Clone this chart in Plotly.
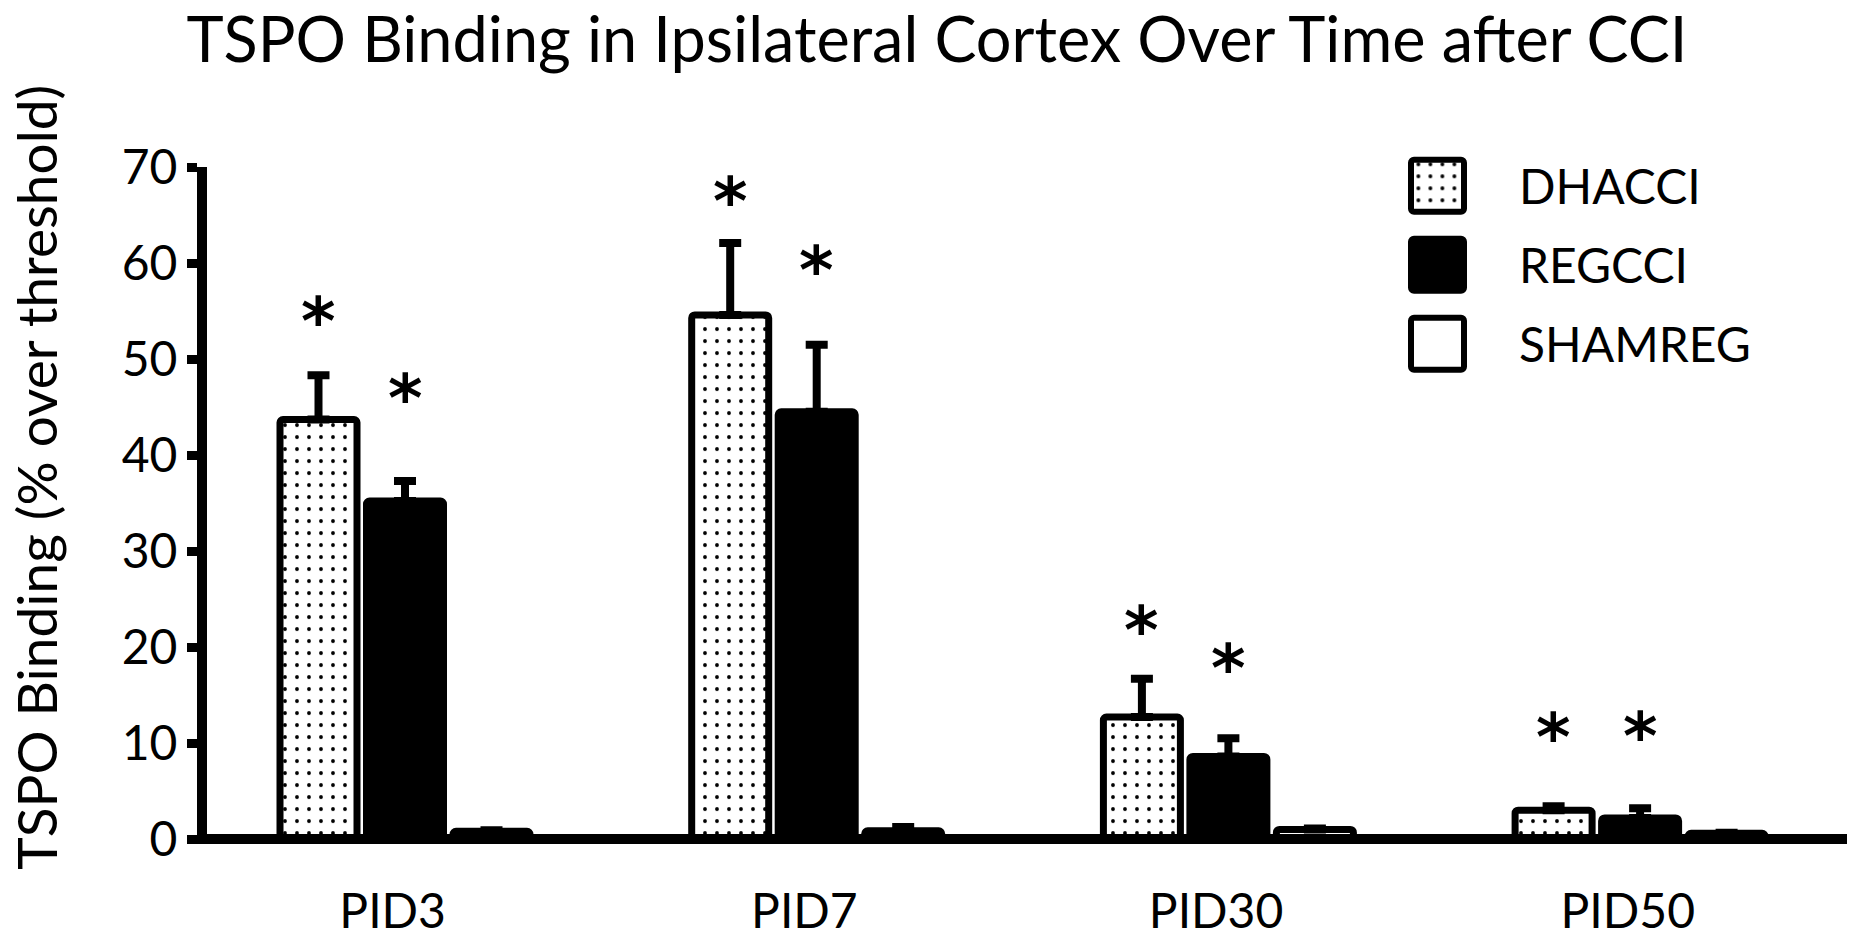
import plotly.graph_objects as go

# ---------------- data ----------------
categories = ["PID3", "PID7", "PID30", "PID50"]
series_names = ["DHACCI", "REGCCI", "SHAMREG"]

dhacci = [43.7, 54.6, 12.7, 3.0]
dhacci_err = [4.6, 7.5, 4.0, 0.4]
regcci = [35.2, 44.5, 8.6, 2.2]
regcci_err = [2.1, 7.0, 1.9, 1.0]
shamreg = [0.8, 0.85, 1.0, 0.6]
shamreg_err = [0.1, 0.4, 0.1, 0.05]

# heights (data units) at which the significance asterisks are drawn
sig_dhacci = [55.4, 67.9, 23.2, 12.0]
sig_regcci = [47.4, 60.7, 19.2, 12.1]

y_ticks = [0, 10, 20, 30, 40, 50, 60, 70]

# ---------------- layout constants (pixels) ----------------
W, H = 1860, 950
PL, PR = 207, 1845          # plot area left/right
PT, PB = 140, 850           # paper top / plot bottom
PW, PH = PR - PL, PB - PT
Y_TOP = 167.5               # pixel of y = 70
GROUP0 = 405                # pixel of first group centre
UNIT = 411.7                # pixels between groups
PITCH = 86.5 / UNIT
BARW = 77 / UNIT
LW = 7
FONT = "Lato"

def px_x(p):
    return (p - PL) / PW

def px_y(p):
    return (PB - p) / PH

x_range = [(PL - GROUP0) / UNIT, (PR - GROUP0) / UNIT]
main_dom_top = (PB - Y_TOP) / PH

styles = {
    "DHACCI": dict(color="white", line=dict(color="black", width=LW),
                   pattern=dict(shape=".", fgcolor="black", bgcolor="white",
                                size=12, solidity=0.08, fillmode="replace"),
                   cornerradius=3),
    "REGCCI": dict(color="black", line=dict(color="black", width=LW), cornerradius=3),
    "SHAMREG": dict(color="white", line=dict(color="black", width=LW), cornerradius=3),
}
values = {"DHACCI": (dhacci, dhacci_err), "REGCCI": (regcci, regcci_err),
          "SHAMREG": (shamreg, shamreg_err)}

fig = go.Figure()
for k, name in enumerate(series_names):
    vals, errs = values[name]
    xs = [i + (k - 1) * PITCH for i in range(len(categories))]
    fig.add_trace(go.Bar(
        x=xs, y=vals, width=BARW, name=name, showlegend=False,
        marker=styles[name],
        error_y=dict(type="data", array=errs, arrayminus=[0] * len(errs),
                     symmetric=False, color="black", thickness=8, width=11),
        xaxis="x", yaxis="y",
    ))

# legend swatches drawn as bars on a small overlay axis
for k, name in enumerate(series_names):
    fig.add_trace(go.Bar(
        y=[2 - k], x=[1], base=0, orientation="h", width=0.66, showlegend=False,
        marker={**styles[name], "line": dict(color="black", width=6)},
        xaxis="x2", yaxis="y2", hoverinfo="skip",
    ))

annotations = []
# asterisks
for i in range(len(categories)):
    for k, lev in ((0, sig_dhacci[i]), (1, sig_regcci[i])):
        annotations.append(dict(
            x=i + (k - 1) * PITCH, y=lev, xref="x", yref="y", text="<b>*</b>",
            showarrow=False, font=dict(family="DejaVu Sans", size=66, color="black"),
            xanchor="center", yanchor="middle", yshift=-14,
        ))
# legend text
for k, name in enumerate(series_names):
    annotations.append(dict(
        x=px_x(1517), y=2 - k, xref="paper", yref="y2", text=name, showarrow=False,
        font=dict(family=FONT, size=48, color="black"), xanchor="left", yanchor="middle",
    ))
# y-axis title
annotations.append(dict(
    x=px_x(36), y=px_y(483), xref="paper", yref="paper",
    text="TSPO Binding (% over threshold)", textangle=-90, showarrow=False,
    font=dict(family=FONT, size=55, color="black"), xanchor="center", yanchor="middle",
))

leg_unit = 80.25
leg_mid = 266.75
fig.update_layout(
    width=W, height=H,
    margin=dict(l=PL, r=W - PR, t=PT, b=H - PB, pad=0),
    paper_bgcolor="white", plot_bgcolor="white",
    barmode="overlay",
    title=dict(text="TSPO Binding in Ipsilateral Cortex Over Time after CCI",
               x=937 / W, xanchor="center", xref="container",
               y=1 - 40 / H, yanchor="middle", yref="container",
               font=dict(family=FONT, size=63, color="black")),
    xaxis=dict(range=x_range, showline=False, showgrid=False, zeroline=False,
               tickmode="array", tickvals=[i - 0.03 for i in range(len(categories))],
               ticktext=categories, ticks="", tickfont=dict(family=FONT, size=48, color="black"),
               ticklabelstandoff=40, fixedrange=True),
    yaxis=dict(range=[0, 70], domain=[0, main_dom_top], showline=True, linewidth=10,
               linecolor="black", showgrid=False, zeroline=False, tickmode="array",
               tickvals=y_ticks, ticks="outside", ticklen=10, tickwidth=9, tickcolor="black",
               tickfont=dict(family=FONT, size=48, color="black"), fixedrange=True),
    xaxis2=dict(domain=[px_x(1411 - 0.2 * 53), px_x(1464 + 0.2 * 53)], range=[-0.2, 1.2],
                visible=False, anchor="y2", fixedrange=True),
    yaxis2=dict(domain=[px_y(leg_mid + 1.5 * leg_unit), px_y(leg_mid - 1.5 * leg_unit)],
                range=[-0.5, 2.5], visible=False, anchor="x2", fixedrange=True),
    annotations=annotations,
    shapes=[dict(type="line", xref="paper", yref="paper", x0=px_x(197), x1=px_x(1847),
                 y0=0, y1=0, line=dict(color="black", width=10), layer="above")],
)

fig.write_html("out.html", config={"displayModeBar": False},
               post_script="document.body.style.margin='0';document.body.style.overflow='hidden';")
